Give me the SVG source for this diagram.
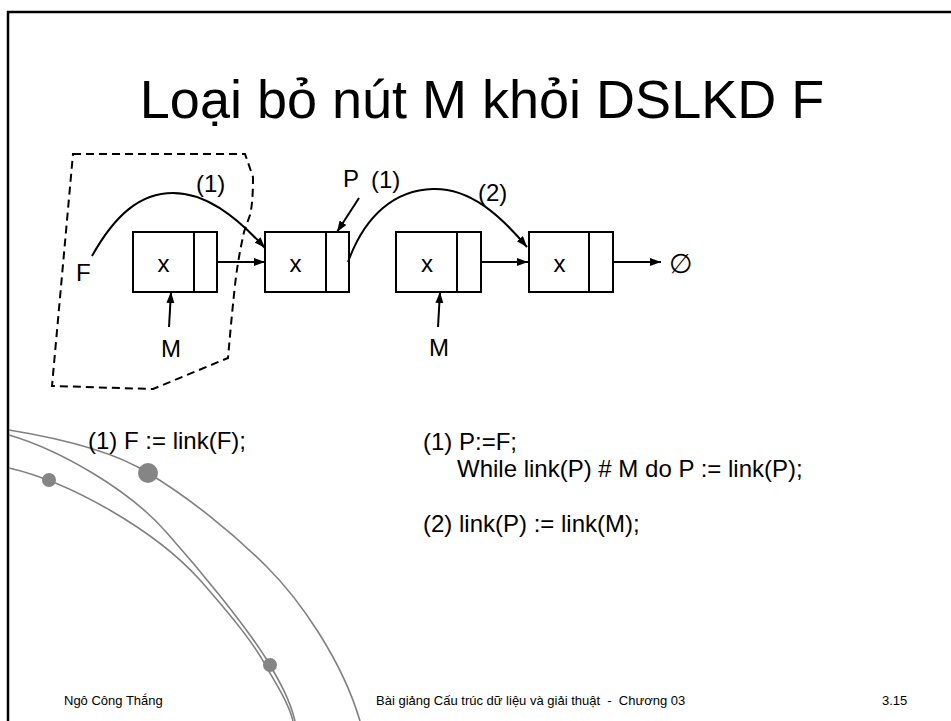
<svg xmlns="http://www.w3.org/2000/svg" width="951" height="721" viewBox="0 0 951 721">
<style>
.t{font-family:"Liberation Sans",Arial,sans-serif;fill:#000}
.lbl{font-size:24px}
.code{font-size:24px}
.foot{font-size:13px}
.box{fill:#fff;stroke:#000;stroke-width:2}
.ln{fill:none;stroke:#000;stroke-width:2}
.arc{fill:none;stroke:#808080;stroke-width:1.6}
.dot{fill:#858585}
</style>
<defs>
<marker id="ah" markerUnits="userSpaceOnUse" markerWidth="12" markerHeight="10" refX="11" refY="4" orient="auto">
<path d="M0,0 L11,4 L0,8 Z" fill="#000"/>
</marker>
</defs>
<rect width="951" height="721" fill="#fff"/>
<path d="M8,730 V12 H960" fill="none" stroke="#000" stroke-width="2.5"/>
<g id="decor">
<path class="arc" d="M9,430 C70,440 120,455 148,473 C190,498 235,535 267,567 C300,600 342,660 360,721"/>
<path class="arc" d="M9,435 C60,450 130,490 167,533 C200,570 245,625 267,660 C280,682 290,700 295,721"/>
<path class="arc" d="M9,468 C70,482 155,530 200,580 C235,620 255,645 267,668 C280,690 289,705 293,721"/>
<circle class="dot" cx="148" cy="473" r="10"/>
<circle class="dot" cx="49" cy="480" r="7"/>
<circle class="dot" cx="270" cy="665" r="7"/>
</g>
<text class="t" x="482" y="118" font-size="54" text-anchor="middle">Loại bỏ nút M khỏi DSLKD F</text>
<g id="region">
<path d="M73,154 L245,154 L253,177 C253,195 252,207 250,215 L244,232 C240,250 237,267 235,285 C232,313 230,335 228,358 L153,389 L52,386 Z" fill="none" stroke="#000" stroke-width="2" stroke-dasharray="8,5"/>
</g>
<g id="node1">
<rect class="box" x="133" y="232" width="84" height="60"/>
<line class="ln" x1="194" y1="232" x2="194" y2="292"/>
<text class="t lbl" x="163.5" y="272" text-anchor="middle">x</text>
</g>
<g id="node2">
<rect class="box" x="265" y="232" width="84" height="60"/>
<line class="ln" x1="326" y1="232" x2="326" y2="292"/>
<text class="t lbl" x="295.5" y="272" text-anchor="middle">x</text>
</g>
<g id="node3">
<rect class="box" x="396" y="232" width="85" height="60"/>
<line class="ln" x1="457" y1="232" x2="457" y2="292"/>
<text class="t lbl" x="427" y="272" text-anchor="middle">x</text>
</g>
<g id="node4">
<rect class="box" x="529" y="232" width="84" height="60"/>
<line class="ln" x1="589" y1="232" x2="589" y2="292"/>
<text class="t lbl" x="559.5" y="272" text-anchor="middle">x</text>
</g>
<g id="labels">
<text class="t lbl" x="76" y="281">F</text>
<text class="t lbl" x="171" y="357" text-anchor="middle">M</text>
<text class="t lbl" x="439" y="356" text-anchor="middle">M</text>
<text class="t lbl" x="196" y="192">(1)</text>
<text class="t lbl" x="343" y="187">P</text>
<text class="t lbl" x="371" y="188">(1)</text>
<text class="t lbl" x="478" y="201">(2)</text>
<text x="681" y="273" font-family="'DejaVu Sans','Liberation Sans',sans-serif" font-size="27" font-weight="200" text-anchor="middle">∅</text>
</g>
<g id="connectors">
<line class="ln" x1="217" y1="262" x2="265" y2="262" marker-end="url(#ah)"/>
<line class="ln" x1="481" y1="262" x2="528" y2="262" marker-end="url(#ah)"/>
<line class="ln" x1="613" y1="262" x2="661" y2="262" marker-end="url(#ah)"/>
<line class="ln" x1="169" y1="327" x2="171" y2="292" marker-end="url(#ah)"/>
<line class="ln" x1="438" y1="327" x2="440" y2="292" marker-end="url(#ah)"/>
<line class="ln" x1="359" y1="198" x2="337" y2="232" marker-end="url(#ah)"/>
<path class="ln" d="M92,256 C115,215 140,193 173,193 C205,193 235,215 265,248" marker-end="url(#ah)"/>
<path class="ln" d="M348,262 C365,215 395,190 433,189 C470,188 500,215 527,247" marker-end="url(#ah)"/>
</g>
<g id="code">
<text class="t code" x="88" y="449">(1) F := link(F);</text>
<text class="t code" x="423" y="450">(1) P:=F;</text>
<text class="t code" x="457" y="477">While link(P) # M do P := link(P);</text>
<text class="t code" x="423" y="532">(2) link(P) := link(M);</text>
</g>
<g id="footer">
<text class="t foot" x="64" y="705">Ngô Công Thắng</text>
<text class="t foot" x="376" y="705" xml:space="preserve">Bài giảng Cấu trúc dữ liệu và giải thuật  -  Chương 03</text>
<text class="t foot" x="882" y="705">3.15</text>
</g>
</svg>
